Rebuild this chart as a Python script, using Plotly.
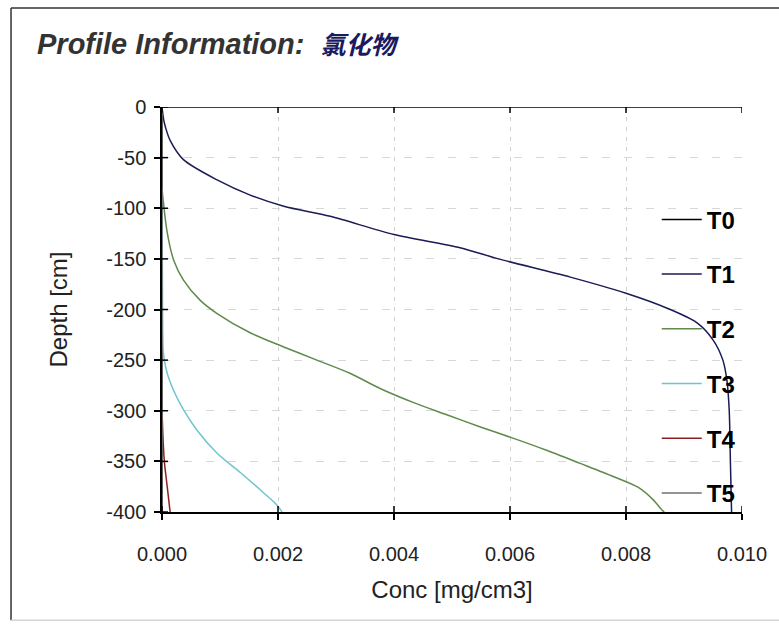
import plotly.graph_objects as go

# Concentration profiles (mg/cm3) against depth (cm) for each output time
t0_depth = [0, -400]
t0_conc = [0.0, 0.0]

t1_depth = [0, -5, -13, -20, -33, -52, -72, -87, -98, -108, -126, -139, -150, -168,
            -184, -199, -213, -230, -250, -270, -300, -350, -400]
t1_conc = [0.0, 0.00001, 0.00003, 0.00006, 0.00014, 0.00037, 0.00095, 0.00152, 0.0021,
           0.0029, 0.0040, 0.00514, 0.0058, 0.00704, 0.0080, 0.00872, 0.00922, 0.0095,
           0.00967, 0.00974, 0.00978, 0.0098, 0.00982]

t2_depth = [-80, -92, -124, -151, -171, -191, -204, -223, -237, -250, -263, -278, -292,
            -304, -316, -327, -339, -352, -365, -376, -388, -398, -400]
t2_conc = [0.0, 0.00002, 0.00009, 0.0002, 0.00037, 0.00066, 0.00095, 0.00152, 0.0021,
           0.00267, 0.00324, 0.00376, 0.00434, 0.00491, 0.00549, 0.00605, 0.00663,
           0.00721, 0.00778, 0.00822, 0.00847, 0.00862, 0.00866]

t3_depth = [-90, -200, -240, -250, -265, -280, -299, -319, -342, -361, -381, -393, -400]
t3_conc = [0.0, 0.00001, 0.00002, 0.00004, 0.0001, 0.0002, 0.00037, 0.0006, 0.00095,
           0.00135, 0.00175, 0.00198, 0.00207]

t4_depth = [-300, -330, -350, -375, -400]
t4_conc = [0.0, 0.00002, 0.00004, 0.00009, 0.00014]

t5_depth = [0, -400]
t5_conc = [0.0, 0.0]

series_names = ["T0", "T1", "T2", "T3", "T4", "T5"]
series_depths = [t0_depth, t1_depth, t2_depth, t3_depth, t4_depth, t5_depth]
series_concs = [t0_conc, t1_conc, t2_conc, t3_conc, t4_conc, t5_conc]
curve_colors = ["#000000", "#1b1b55", "#5f8a4c", "#6cc6cf", "#8a2020", "#707070"]

x_ticks = [0.000, 0.002, 0.004, 0.006, 0.008, 0.010]
x_tick_labels = ["0.000", "0.002", "0.004", "0.006", "0.008", "0.010"]
y_ticks = [0, -50, -100, -150, -200, -250, -300, -350, -400]
y_tick_labels = ["0", "-50", "-100", "-150", "-200", "-250", "-300", "-350", "-400"]

fig = go.Figure()
for name, d, c, cc in zip(series_names, series_depths, series_concs, curve_colors):
    fig.add_trace(go.Scatter(
        x=c, y=d, mode="lines", name=name, legendgroup=name,
        line=dict(color=cc, width=1.5, shape="spline", smoothing=0.8),
    ))

# Inner halves of the crossing tick marks, plus the top axis line
shapes = []
for v in x_ticks:
    shapes.append(dict(type="line", xref="x", yref="y", x0=v, x1=v,
                       ysizemode="pixel", yanchor=y_ticks[-1], y0=0, y1=6,
                       line=dict(color="#000", width=1.5)))
    shapes.append(dict(type="line", xref="x", yref="y", x0=v, x1=v,
                       ysizemode="pixel", yanchor=y_ticks[0], y0=-6, y1=6,
                       line=dict(color="#000", width=1.5)))
for v in y_ticks:
    shapes.append(dict(type="line", xref="x", yref="y", y0=v, y1=v,
                       xsizemode="pixel", xanchor=x_ticks[0], x0=0, x1=6,
                       line=dict(color="#000", width=1.5)))
shapes.append(dict(type="line", xref="x", yref="y", x0=x_ticks[0], x1=x_ticks[-1],
                   y0=y_ticks[0], y1=y_ticks[0], line=dict(color="#000", width=1.5)))

# Panel frame
shapes.append(dict(type="line", xref="paper", yref="paper", x0=-0.2603, x1=-0.2603,
                   y0=-0.267, y1=1.2444, line=dict(color="#333", width=1.5)))
shapes.append(dict(type="line", xref="paper", yref="paper", x0=-0.2603, x1=1.1,
                   y0=1.2444, y1=1.2444, line=dict(color="#333", width=1.5)))
shapes.append(dict(type="line", xref="paper", yref="paper", x0=-0.2603, x1=1.1,
                   y0=-0.267, y1=-0.267, line=dict(color="#d4d4d4", width=1.5)))

fig.update_layout(
    width=779, height=634,
    margin=dict(l=162, r=37, t=107, b=122),
    paper_bgcolor="white", plot_bgcolor="white",
    font=dict(family="Liberation Sans, Arial, sans-serif", color="#222"),
    showlegend=True,
    legend=dict(
        x=0.853, y=0.777, xanchor="left", yanchor="top",
        bgcolor="rgba(0,0,0,0)", tracegroupgap=20.5, itemwidth=40,
        font=dict(size=24, color="#000", family="Liberation Sans, Arial, sans-serif",
                  weight="bold"),
    ),
    shapes=shapes,
    annotations=[dict(
        xref="paper", yref="paper", x=-0.219, y=1.158, xanchor="left", yanchor="middle",
        showarrow=False,
        text="<b><i>Profile Information:  <span style='color:#1a1a60;font-family:Noto Sans CJK SC;font-size:25px'>氯化物</span></i></b>",
        font=dict(size=29, color="#333", family="Liberation Sans, Arial, sans-serif"),
    )],
    xaxis=dict(
        range=[x_ticks[0], x_ticks[-1]], tickvals=x_ticks, ticktext=x_tick_labels,
        showline=True, linecolor="#000", linewidth=1.5,
        ticks="outside", ticklen=6, tickwidth=1.5, tickcolor="#000",
        tickfont=dict(size=20, color="#222"), ticklabelstandoff=17,
        showgrid=True, gridcolor="#d0d0d0", griddash="4px,6px", gridwidth=1,
        zeroline=False,
        title=dict(text="Conc [mg/cm3]", font=dict(size=24, color="#222"), standoff=17),
    ),
    yaxis=dict(
        range=[y_ticks[-1], y_ticks[0]], tickvals=y_ticks, ticktext=y_tick_labels,
        showline=True, linecolor="#000", linewidth=1.5,
        ticks="outside", ticklen=6, tickwidth=1.5, tickcolor="#000",
        tickfont=dict(size=20, color="#222"), ticklabelstandoff=4,
        showgrid=True, gridcolor="#d8d8d8", griddash="8px,14px", gridwidth=1,
        zeroline=False,
        title=dict(text="Depth [cm]", font=dict(size=24, color="#222"), standoff=32),
    ),
)

fig.write_html("out.html")
